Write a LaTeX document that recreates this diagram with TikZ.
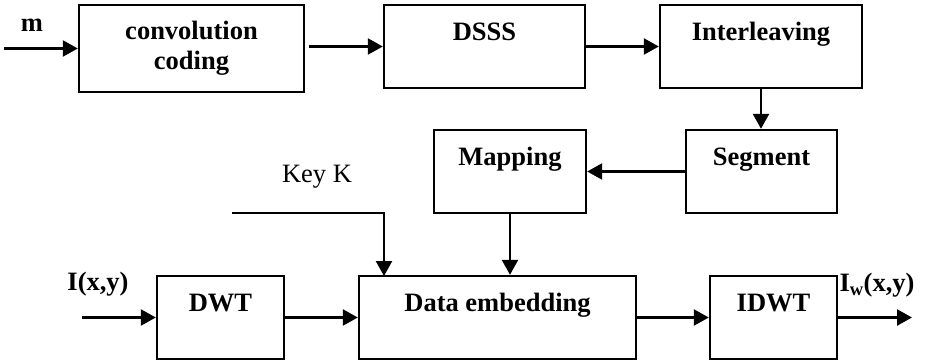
\documentclass[tikz,border=0pt]{standalone}
\usepackage{fontspec}
\setmainfont{Liberation Serif}
\usetikzlibrary{arrows.meta}
\begin{document}
\begin{tikzpicture}[x=1pt,y=-1pt,
  blk/.style={draw,line width=2.4pt,inner sep=0pt,align=center,font=\fontsize{26.5}{30}\selectfont\bfseries},
  lbl/.style={inner sep=0pt,font=\fontsize{26.5}{30}\selectfont\bfseries},
  arr/.style={line width=2.4pt,-{Triangle[length=15pt,width=16pt]}},
  ln/.style={line width=2.4pt}]
\useasboundingbox (0,0) rectangle (929,364);
\node[blk,minimum width=225pt,minimum height=87pt] (conv) at (191.5,48.5) {convolution\\coding};
\node[blk,minimum width=201pt,minimum height=83pt] (dsss) at (484.5,46.5) {DSSS\\\mbox{}};
\node[blk,minimum width=202pt,minimum height=83pt] (inter) at (761,46.5) {Interleaving\\\mbox{}};
\node[blk,minimum width=151pt,minimum height=83pt] (seg) at (761.5,171.5) {Segment\\\mbox{}};
\node[blk,minimum width=152pt,minimum height=83pt] (map) at (510,171.5) {Mapping\\\mbox{}};
\node[blk,minimum width=127pt,minimum height=83pt] (dwt) at (220.5,317.5) {DWT\\\mbox{}};
\node[blk,minimum width=277pt,minimum height=83pt] (de) at (497.5,317.5) {Data embedding\\\mbox{}};
\node[blk,minimum width=127pt,minimum height=83pt] (idwt) at (773.5,317.5) {IDWT\\\mbox{}};

\node[lbl] (m) at (32,25) {m};
\node[lbl] (ixy) at (98,284) {I(x,y)};
\node[lbl] (iwxy) at (877,285) {I\textsubscript{w}(x,y)};
\node[inner sep=0pt,font=\fontsize{26.5}{30}\selectfont] (key) at (317,177) {Key K};

\coordinate (min) at (4,48.5);
\coordinate (iin) at (82,317.5);
\coordinate (iout) at (912,317.5);
\coordinate (keystart) at (232,213);
\coordinate (keyin) at (384,276);

\draw[arr] (min) -- (conv.west);
\draw[arr] ([xshift=4pt]conv.east |- dsss.west) -- (dsss.west);
\draw[arr] (dsss.east) -- (inter.west);
\draw[arr] (inter.south) -- (inter.south |- seg.north);
\draw[arr] (seg.west) -- (map.east);
\draw[arr] (map.south) -- (map.south |- de.north);
\draw[arr] (keystart) -| (keyin);
\draw[arr] (iin) -- (dwt.west);
\draw[arr] (dwt.east) -- (de.west);
\draw[arr] (de.east) -- (idwt.west);
\draw[arr] (idwt.east) -- (iout);
\end{tikzpicture}
\end{document}
